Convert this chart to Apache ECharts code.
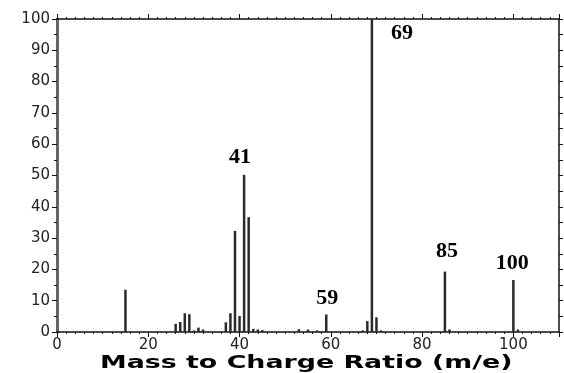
<!DOCTYPE html>
<html>
<head>
<meta charset="utf-8">
<style>
  html, body { margin: 0; padding: 0; background: #fff; }
  #chart { width: 564px; height: 373px; }
</style>
<script src="https://cdn.jsdelivr.net/npm/echarts@6/dist/echarts.min.js"></script>
</head>
<body>
<div id="chart"></div>
<script>
// mass spectrum: m/z and relative intensity
const mz =        [15,   26,  27,  28,  29,  30,  31,  32,  37,  38,  39,   40,  41,   42,   43,  44,  45,  53,  55,  57,  59,  67,  68,  69,  70,  71,  85,   86,  100,  101];
const intensity = [13.5, 2.6, 3.2, 6.0, 5.7, 0.5, 1.4, 0.8, 3.1, 6.0, 32.3, 5.1, 50.2, 36.7, 1.0, 0.8, 0.6, 0.9, 0.8, 0.5, 5.6, 0.5, 3.5, 100, 4.7, 0.5, 19.3, 0.8, 16.6, 0.8];
const labelledPeaks = [41, 59, 69, 85, 100];
const xTitle = 'Mass to Charge Ratio (m/e)';

// where each peak label sits relative to the top of its bar
const labelOffsets = { 41: [-4, -2], 59: [1, 0], 69: [30, 30], 85: [2, -4], 100: [-1, -1] };

const chart = echarts.init(document.getElementById('chart'));

const barData = mz.map((m, i) => {
    const item = { value: [m, intensity[i]] };
    if (labelledPeaks.includes(m)) {
        item.label = {
            show: true,
            position: 'top',
            offset: labelOffsets[m],
            formatter: String(m),
            fontFamily: 'Liberation Serif',
            fontWeight: 'bold',
            fontSize: 22,
            color: '#000'
        };
    }
    return item;
});

const tickFont = { fontFamily: 'DejaVu Sans', fontSize: 15, color: '#222' };
const thinLine = { show: true, onZero: false, lineStyle: { color: '#111', width: 1.5 } };

chart.setOption({
    backgroundColor: '#fff',
    animation: false,
    grid: { left: 57, right: 5, top: 19, bottom: 41 },
    xAxis: [
        {
            type: 'value', position: 'bottom', min: 0, max: 110, interval: 20,
            axisLine: thinLine,
            axisTick: { show: true, length: 5, lineStyle: { color: '#111' } },
            minorTick: { show: true, splitNumber: 10, length: 2, lineStyle: { color: '#111' } },
            axisLabel: Object.assign({ margin: 6, showMaxLabel: false }, tickFont),
            splitLine: { show: false }
        },
        {
            type: 'value', position: 'top', min: 0, max: 110, interval: 20,
            axisLine: thinLine,
            axisTick: { show: true, length: 5, lineStyle: { color: '#111' } },
            minorTick: { show: true, splitNumber: 10, length: 2, lineStyle: { color: '#111' } },
            axisLabel: { show: false },
            splitLine: { show: false }
        }
    ],
    yAxis: [
        {
            type: 'value', position: 'left', min: 0, max: 100, interval: 10,
            axisLine: { show: true, onZero: false, lineStyle: { color: '#666', width: 3 } },
            axisTick: { show: true, length: 5, lineStyle: { color: '#111' } },
            minorTick: { show: true, splitNumber: 2, length: 3, lineStyle: { color: '#111' } },
            axisLabel: Object.assign({ margin: 7 }, tickFont),
            splitLine: { show: false }
        },
        {
            type: 'value', position: 'right', min: 0, max: 100, interval: 5,
            axisLine: thinLine,
            axisTick: { show: true, length: 4, lineStyle: { color: '#111' } },
            axisLabel: { show: false },
            splitLine: { show: false }
        }
    ],
    // axis title, stretched sideways like the original
    graphic: [{
        type: 'text',
        left: 100,
        top: 354,
        scaleX: 1.49,
        originX: 0,
        style: {
            text: xTitle,
            font: 'bold 18px "DejaVu Sans"',
            fill: '#000'
        }
    }],
    series: [{
        type: 'bar',
        xAxisIndex: 0,
        yAxisIndex: 0,
        barWidth: 2.5,
        itemStyle: { color: '#2a2a2a' },
        data: barData
    }]
});
</script>
</body>
</html>
